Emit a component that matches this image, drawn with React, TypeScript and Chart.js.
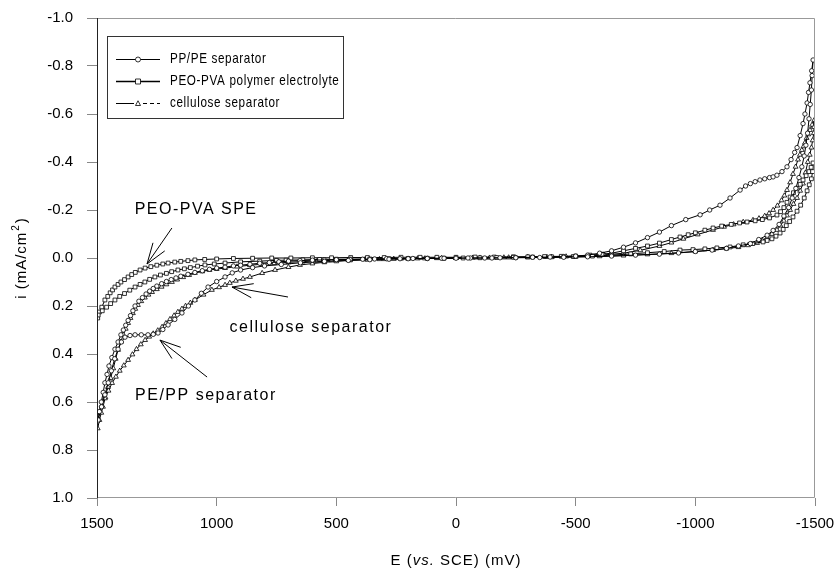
import React, { useEffect, useRef } from "react";
import { Chart, registerables } from "chart.js";
Chart.register(...registerables);

const FONT = "'Liberation Sans', Arial, sans-serif";

const xTickValues = [1500, 1000, 500, 0, -500, -1000, -1500];
const yTickValues = [-1.0, -0.8, -0.6, -0.4, -0.2, 0.0, 0.2, 0.4, 0.6, 0.8, 1.0];

const seriesNames = ["PP/PE separator", "PEO-PVA polymer electrolyte", "cellulose separator"];

// PP/PE separator (circles): E in mV, i in mA/cm2 (forward scan then return scan)
const ppE = [1497, 1490, 1482, 1474, 1467, 1458, 1450, 1438, 1425, 1412, 1400, 1390, 1380, 1370, 1360, 1350, 1341, 1325, 1310, 1295, 1280, 1265, 1250, 1230, 1210, 1190, 1170, 1150, 1120, 1091, 1060, 1030, 1000, 965, 930, 900, 861, 820, 780, 740, 700, 652, 600, 550, 500, 443, 390, 340, 290, 234, 180, 120, 60, 0, -60, -120, -184, -250, -320, -393, -450, -500, -550, -600, -650, -700, -750, -800, -850, -900, -960, -1020, -1060, -1103, -1145, -1187, -1210, -1230, -1250, -1270, -1290, -1310, -1325, -1341, -1362, -1383, -1400, -1415, -1425, -1438, -1450, -1458, -1467, -1473, -1479, -1486, -1492,
  -1488, -1485, -1480, -1475, -1469, -1462, -1455, -1445, -1433, -1420, -1405, -1390, -1370, -1350, -1325, -1300, -1265, -1230, -1180, -1130, -1070, -1000, -930, -850, -750, -650, -550, -450, -350, -250, -150, -50, 50, 120, 200, 280, 360, 450, 550, 650, 730, 800, 850, 900, 935, 965, 1000, 1036, 1064, 1091, 1118, 1145, 1175, 1203, 1225, 1245, 1265, 1287, 1315, 1341, 1362, 1383, 1398, 1412, 1426, 1440, 1453, 1467, 1481, 1495];
const ppI = [0.68, 0.64, 0.6, 0.56, 0.52, 0.485, 0.45, 0.415, 0.38, 0.35, 0.32, 0.3, 0.28, 0.26, 0.24, 0.22, 0.2, 0.18, 0.165, 0.15, 0.138, 0.127, 0.117, 0.107, 0.098, 0.09, 0.083, 0.076, 0.068, 0.06, 0.053, 0.047, 0.042, 0.038, 0.033, 0.03, 0.026, 0.022, 0.019, 0.016, 0.013, 0.011, 0.009, 0.008, 0.007, 0.006, 0.005, 0.004, 0.003, 0.003, 0.002, 0.002, 0.001, 0.001, 0.0, 0.0, -0.001, -0.002, -0.003, -0.004, -0.006, -0.008, -0.012, -0.02, -0.03, -0.045, -0.063, -0.085, -0.108, -0.135, -0.16, -0.18, -0.2, -0.22, -0.25, -0.283, -0.3, -0.31, -0.318, -0.325, -0.33, -0.335, -0.338, -0.345, -0.36, -0.38, -0.41, -0.44, -0.46, -0.51, -0.56, -0.6, -0.646, -0.69, -0.73, -0.78, -0.825,
  -0.76, -0.7, -0.64, -0.58, -0.52, -0.47, -0.425, -0.38, -0.335, -0.29, -0.25, -0.21, -0.175, -0.14, -0.115, -0.095, -0.077, -0.06, -0.05, -0.04, -0.033, -0.027, -0.021, -0.016, -0.012, -0.008, -0.005, -0.003, -0.002, -0.001, 0.0, 0.0, 0.001, 0.002, 0.003, 0.005, 0.007, 0.01, 0.014, 0.02, 0.027, 0.033, 0.04, 0.05, 0.062, 0.079, 0.098, 0.121, 0.147, 0.175, 0.2, 0.229, 0.256, 0.279, 0.298, 0.3125, 0.318, 0.32, 0.32, 0.32, 0.323, 0.33, 0.35, 0.38, 0.42, 0.47, 0.52, 0.57, 0.62, 0.675];

// PEO-PVA polymer electrolyte (squares)
const peoE = [1497, 1490, 1480, 1467, 1455, 1445, 1435, 1425, 1412, 1400, 1385, 1370, 1355, 1340, 1320, 1299, 1275, 1250, 1225, 1203, 1175, 1150, 1120, 1091, 1050, 1000, 930, 850, 770, 690, 600, 520, 440, 370, 300, 230, 150, 80, 0, -80, -160, -240, -300, -370, -440, -500, -560, -610, -650, -700, -750, -800, -850, -900, -936, -970, -1000, -1040, -1074, -1110, -1150, -1185, -1216, -1250, -1280, -1310, -1341, -1356, -1370, -1383, -1396, -1410, -1425, -1438, -1450, -1463, -1475, -1484, -1492,
  -1490, -1485, -1476, -1467, -1455, -1440, -1425, -1408, -1394, -1380, -1367, -1354, -1337, -1320, -1300, -1283, -1240, -1200, -1145, -1090, -1040, -990, -936, -870, -800, -730, -650, -570, -490, -400, -320, -240, -170, -100, -30, 50, 120, 200, 280, 360, 440, 500, 570, 640, 710, 750, 820, 900, 965, 1010, 1049, 1080, 1110, 1135, 1162, 1188, 1210, 1235, 1258, 1280, 1300, 1320, 1341, 1363, 1385, 1405, 1425, 1443, 1460, 1478, 1495];
const peoI = [0.25, 0.225, 0.205, 0.175, 0.16, 0.145, 0.133, 0.121, 0.11, 0.1, 0.09, 0.079, 0.069, 0.06, 0.05, 0.042, 0.036, 0.03, 0.025, 0.021, 0.017, 0.014, 0.011, 0.008, 0.006, 0.004, 0.002, 0.001, 0.0, 0.0, -0.001, -0.001, -0.002, -0.002, -0.002, -0.003, -0.003, -0.003, -0.003, -0.004, -0.004, -0.005, -0.005, -0.006, -0.007, -0.008, -0.012, -0.016, -0.02, -0.03, -0.04, -0.05, -0.062, -0.077, -0.0875, -0.097, -0.105, -0.116, -0.125, -0.133, -0.14, -0.146, -0.15, -0.155, -0.16, -0.167, -0.179, -0.193, -0.21, -0.232, -0.254, -0.272, -0.29, -0.307, -0.325, -0.343, -0.36, -0.378, -0.396,
  -0.36, -0.33, -0.305, -0.28, -0.25, -0.22, -0.195, -0.171, -0.152, -0.135, -0.119, -0.104, -0.091, -0.08, -0.073, -0.067, -0.06, -0.055, -0.046, -0.042, -0.038, -0.035, -0.033, -0.027, -0.022, -0.017, -0.012, -0.008, -0.006, -0.005, -0.004, -0.003, -0.002, -0.001, 0.0, 0.001, 0.001, 0.002, 0.003, 0.004, 0.005, 0.005, 0.006, 0.008, 0.009, 0.01, 0.013, 0.016, 0.021, 0.025, 0.029, 0.034, 0.04, 0.045, 0.05, 0.057, 0.064, 0.071, 0.079, 0.089, 0.1, 0.11, 0.121, 0.134, 0.148, 0.16, 0.175, 0.19, 0.205, 0.22, 0.2375];

// cellulose separator (triangles)
const celE = [1497, 1490, 1482, 1475, 1465, 1454, 1443, 1432, 1422, 1412, 1401, 1390, 1380, 1370, 1360, 1350, 1340, 1329, 1315, 1300, 1285, 1270, 1250, 1230, 1210, 1187, 1165, 1140, 1115, 1091, 1060, 1030, 1000, 965, 915, 861, 810, 760, 700, 640, 580, 520, 450, 380, 320, 260, 200, 130, 60, 0, -70, -140, -220, -300, -380, -460, -550, -620, -700, -770, -850, -900, -950, -1010, -1074, -1120, -1160, -1200, -1241, -1266, -1290, -1308, -1325, -1343, -1360, -1372, -1383, -1396, -1408, -1419, -1429, -1437, -1445, -1452, -1458, -1465, -1472, -1479, -1488, -1497,
  -1496, -1495, -1490, -1485, -1478, -1470, -1460, -1450, -1438, -1425, -1410, -1396, -1383, -1370, -1356, -1341, -1320, -1300, -1280, -1258, -1220, -1180, -1130, -1074, -1000, -900, -800, -700, -600, -500, -400, -300, -200, -100, 0, 80, 160, 230, 300, 370, 443, 500, 550, 600, 652, 700, 756, 810, 861, 890, 920, 945, 965, 990, 1020, 1055, 1091, 1110, 1130, 1145, 1162, 1178, 1195, 1212, 1228, 1246, 1265, 1282, 1299, 1317, 1335, 1352, 1370, 1388, 1405, 1421, 1437, 1452, 1467, 1481, 1495];
const celI = [0.71, 0.675, 0.645, 0.62, 0.58, 0.5375, 0.5, 0.46, 0.42, 0.383, 0.35, 0.32, 0.295, 0.271, 0.25, 0.23, 0.212, 0.196, 0.18, 0.165, 0.153, 0.142, 0.13, 0.12, 0.11, 0.1, 0.09, 0.08, 0.071, 0.0625, 0.056, 0.05, 0.046, 0.042, 0.036, 0.03, 0.026, 0.022, 0.018, 0.015, 0.012, 0.01, 0.008, 0.006, 0.005, 0.004, 0.003, 0.002, 0.001, 0.0, -0.001, -0.001, -0.002, -0.003, -0.004, -0.006, -0.008, -0.013, -0.02, -0.032, -0.05, -0.064, -0.08, -0.098, -0.117, -0.13, -0.14, -0.15, -0.158, -0.165, -0.175, -0.186, -0.2, -0.218, -0.24, -0.26, -0.283, -0.315, -0.35, -0.38, -0.41, -0.43, -0.45, -0.465, -0.48, -0.5, -0.515, -0.533, -0.555, -0.575,
  -0.545, -0.52, -0.49, -0.46, -0.43, -0.4, -0.355, -0.31, -0.28, -0.25, -0.225, -0.2, -0.177, -0.155, -0.135, -0.117, -0.1, -0.085, -0.073, -0.0625, -0.053, -0.045, -0.039, -0.033, -0.027, -0.02, -0.015, -0.01, -0.007, -0.005, -0.004, -0.003, -0.002, -0.001, 0.0, 0.001, 0.002, 0.003, 0.005, 0.007, 0.01, 0.014, 0.018, 0.023, 0.029, 0.038, 0.05, 0.063, 0.079, 0.087, 0.095, 0.104, 0.1125, 0.122, 0.133, 0.153, 0.175, 0.187, 0.2, 0.212, 0.225, 0.24, 0.255, 0.272, 0.2875, 0.302, 0.315, 0.328, 0.342, 0.36, 0.38, 0.402, 0.425, 0.448, 0.47, 0.495, 0.521, 0.553, 0.585, 0.615, 0.646];

// annotations
const annTexts = ["PEO-PVA SPE", "cellulose separator", "PE/PP separator"];
const annTextE = [1086, 606, 1045];
const annTextI = [-0.2, 0.29, 0.575];
const arrowTipE = [1291, 936, 1237];
const arrowTipI = [0.025, 0.121, 0.342];
const arrowTailE = [1187, 702, 1040];
const arrowTailI = [-0.125, 0.1625, 0.496];

const toPts = (xs: number[], ys: number[]) => xs.map((x, i) => ({ x, y: ys[i] }));

const drawMarker = (ctx: CanvasRenderingContext2D, style: string, x: number, y: number, r: number) => {
  ctx.beginPath();
  if (style === "circle") {
    ctx.arc(x, y, r, 0, Math.PI * 2);
  } else if (style === "rect") {
    ctx.rect(x - r, y - r, 2 * r, 2 * r);
  } else {
    ctx.moveTo(x, y - r * 1.1);
    ctx.lineTo(x + r, y + r * 0.8);
    ctx.lineTo(x - r, y + r * 0.8);
    ctx.closePath();
  }
  ctx.fillStyle = "#fff";
  ctx.fill();
  ctx.stroke();
};

const overlay = {
  id: "overlay",
  afterDraw(chart: any) {
    const { ctx, chartArea: ca, scales } = chart;
    const xs = scales.x;
    const ys = scales.y;
    ctx.save();
    // frame
    ctx.lineWidth = 1;
    ctx.strokeStyle = "#999";
    ctx.beginPath();
    ctx.moveTo(ca.left, ca.top + 0.5);
    ctx.lineTo(ca.right - 0.5, ca.top + 0.5);
    ctx.lineTo(ca.right - 0.5, ca.bottom - 0.5);
    ctx.lineTo(ca.left, ca.bottom - 0.5);
    ctx.stroke();
    ctx.strokeStyle = "#222";
    ctx.beginPath();
    ctx.moveTo(ca.left + 0.5, ca.top);
    ctx.lineTo(ca.left + 0.5, ca.bottom);
    ctx.stroke();

    // annotations
    ctx.fillStyle = "#000";
    ctx.font = `16px ${FONT}`;
    (ctx as any).letterSpacing = "1.5px";
    ctx.textAlign = "center";
    ctx.textBaseline = "middle";
    annTexts.forEach((t, i) => {
      ctx.fillText(t, xs.getPixelForValue(annTextE[i]), ys.getPixelForValue(annTextI[i]));
    });
    ctx.strokeStyle = "#000";
    ctx.lineWidth = 1;
    for (let i = 0; i < arrowTipE.length; i++) {
      const tx = xs.getPixelForValue(arrowTipE[i]);
      const ty = ys.getPixelForValue(arrowTipI[i]);
      const bx = xs.getPixelForValue(arrowTailE[i]);
      const by = ys.getPixelForValue(arrowTailI[i]);
      const ang = Math.atan2(by - ty, bx - tx);
      ctx.beginPath();
      ctx.moveTo(bx, by);
      ctx.lineTo(tx, ty);
      const hl = 22;
      for (const d of [-0.33, 0.33]) {
        ctx.moveTo(tx, ty);
        ctx.lineTo(tx + hl * Math.cos(ang + d), ty + hl * Math.sin(ang + d));
      }
      ctx.stroke();
    }

    // legend
    const lx = 107, ly = 36, lw = 236, lh = 82;
    ctx.fillStyle = "#fff";
    ctx.fillRect(lx, ly, lw, lh);
    ctx.strokeStyle = "#333";
    ctx.strokeRect(lx + 0.5, ly + 0.5, lw, lh);
    const styles = ["circle", "rect", "triangle"];
    const rows = [59, 81, 103];
    ctx.font = `15px ${FONT}`;
    (ctx as any).letterSpacing = "0.8px";
    ctx.textAlign = "left";
    rows.forEach((ry, i) => {
      ctx.strokeStyle = "#000";
      ctx.lineWidth = i === 1 ? 1.5 : 1;
      ctx.beginPath();
      if (i === 2) {
        ctx.moveTo(116, ry + 0.5);
        ctx.lineTo(134, ry + 0.5);
        ctx.stroke();
        ctx.setLineDash([4, 3]);
        ctx.beginPath();
        ctx.moveTo(143, ry + 0.5);
        ctx.lineTo(160, ry + 0.5);
        ctx.stroke();
        ctx.setLineDash([]);
      } else {
        ctx.moveTo(116, ry + 0.5);
        ctx.lineTo(160, ry + 0.5);
        ctx.stroke();
      }
      ctx.lineWidth = 0.8;
      drawMarker(ctx, styles[i], 138, ry + 0.5, 2.5);
      ctx.fillStyle = "#000";
      ctx.save();
      ctx.translate(170, ry);
      ctx.scale(0.78, 1);
      ctx.fillText(seriesNames[i], 0, 0);
      ctx.restore();
    });

    // axis titles
    (ctx as any).letterSpacing = "1px";
    ctx.textBaseline = "middle";
    const p1 = "E (", p2 = "vs.", p3 = " SCE) (mV)";
    ctx.font = `15px ${FONT}`;
    const w1 = ctx.measureText(p1).width;
    const w3 = ctx.measureText(p3).width;
    ctx.font = `italic 15px ${FONT}`;
    const w2 = ctx.measureText(p2).width;
    const sx = (ca.left + ca.right) / 2 - (w1 + w2 + w3) / 2;
    const ty = 561;
    ctx.textAlign = "left";
    ctx.font = `15px ${FONT}`;
    ctx.fillText(p1, sx, ty);
    ctx.font = `italic 15px ${FONT}`;
    ctx.fillText(p2, sx + w1, ty);
    ctx.font = `15px ${FONT}`;
    ctx.fillText(p3, sx + w1 + w2, ty);

    ctx.translate(22, (ca.top + ca.bottom) / 2);
    ctx.rotate(-Math.PI / 2);
    const q1 = "i (mA/cm", q2 = "2", q3 = ")";
    ctx.font = `15px ${FONT}`;
    const v1 = ctx.measureText(q1).width;
    const v3 = ctx.measureText(q3).width;
    ctx.font = `10px ${FONT}`;
    const v2 = ctx.measureText(q2).width + 2;
    const start = -(v1 + v2 + v3) / 2;
    ctx.font = `15px ${FONT}`;
    ctx.fillText(q1, start, 0);
    ctx.font = `10px ${FONT}`;
    ctx.fillText(q2, start + v1 + 1, -6);
    ctx.font = `15px ${FONT}`;
    ctx.fillText(q3, start + v1 + v2, 0);
    ctx.restore();
  },
};

export default function App() {
  const ref = useRef<HTMLCanvasElement | null>(null);
  useEffect(() => {
    document.body.style.margin = "0";
    const canvas = ref.current!;
    const mk = (label: string, xs: number[], ys: number[], style: string, r: number) => ({
      label,
      data: toPts(xs, ys),
      showLine: true,
      borderColor: "#000",
      borderWidth: 1,
      pointStyle: style,
      pointRadius: r,
      pointBorderWidth: 0.8,
      pointBorderColor: "#000",
      pointBackgroundColor: "#fff",
      tension: 0,
    });
    const chart = new Chart(canvas, {
      type: "scatter",
      data: {
        datasets: [
          mk(seriesNames[0], ppE, ppI, "circle", 2.2),
          mk(seriesNames[1], peoE, peoI, "rect", 2.7),
          mk(seriesNames[2], celE, celI, "triangle", 2.8),
        ],
      },
      options: {
        animation: false,
        responsive: false,
        maintainAspectRatio: false,
        layout: { padding: { top: 18, right: 25, left: 0, bottom: 0 } },
        plugins: { legend: { display: false }, tooltip: { enabled: false } },
        scales: {
          x: {
            type: "linear",
            min: -1500,
            max: 1500,
            reverse: true,
            afterBuildTicks: (s: any) => {
              s.ticks = xTickValues.map((v) => ({ value: v }));
            },
            afterFit: (s: any) => {
              s.height = 79;
              s.paddingLeft = 0;
              s.paddingRight = 0;
            },
            ticks: {
              callback: (v: any) => String(v),
              color: "#000",
              font: { size: 15, family: FONT },
              padding: 9,
              maxRotation: 0,
            },
            grid: { drawOnChartArea: false, tickLength: 8, color: "#888" },
            border: { display: false },
          },
          y: {
            type: "linear",
            min: -1,
            max: 1,
            reverse: true,
            afterBuildTicks: (s: any) => {
              s.ticks = yTickValues.map((v) => ({ value: v }));
            },
            afterFit: (s: any) => {
              s.width = 97;
              s.paddingTop = 0;
              s.paddingBottom = 0;
            },
            ticks: {
              callback: (v: any) => (Math.abs(v) < 1e-9 ? "0.0" : Number(v).toFixed(1)),
              color: "#000",
              font: { size: 15, family: FONT },
              padding: 14,
            },
            grid: { drawOnChartArea: false, tickLength: 10, color: "#888" },
            border: { display: false },
          },
        },
      },
      plugins: [overlay],
    });
    return () => chart.destroy();
  }, []);
  return <canvas ref={ref} width={840} height={577} style={{ display: "block" }} />;
}
